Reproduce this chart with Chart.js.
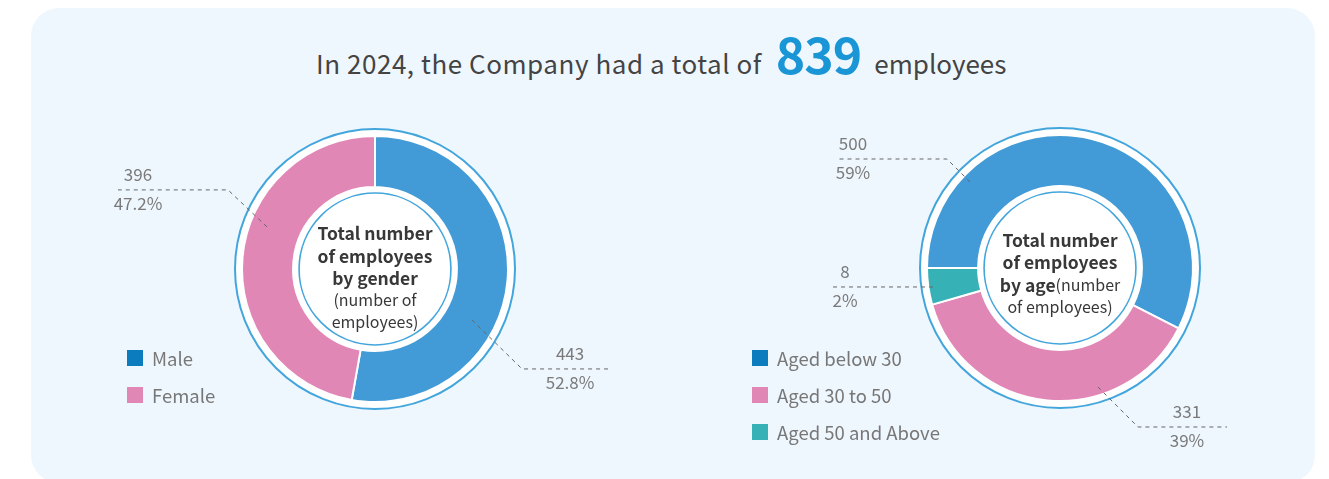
<!DOCTYPE html>
<html><head><meta charset="utf-8">
<script src="https://cdn.jsdelivr.net/npm/chart.js@4.4.1/dist/chart.umd.min.js"></script>
<style>
html,body{margin:0;padding:0;background:#fff;width:1329px;height:479px;overflow:hidden;font-family:"Noto Sans CJK SC","Noto Sans",sans-serif;}
#panel{position:absolute;left:31px;top:8px;width:1284px;height:475px;background:#eff7fe;border-radius:28px;}
#title{position:absolute;left:316px;top:25px;white-space:nowrap;color:#444;font-size:26px;display:flex;align-items:baseline;line-height:54px;}
#t1{letter-spacing:0.55px;}
#title .num{font-size:50px;font-weight:bold;color:#1a96d6;margin:0 13px 0 14px;letter-spacing:-1px;}
.cv{position:absolute;top:0;height:479px;}
#c1wrap{left:0;width:665px;}
#c2wrap{left:665px;width:664px;}
.legend{position:absolute;font-size:18.5px;color:#777;}
.legend .item{display:flex;align-items:center;height:37px;white-space:nowrap;}
.legend .sw{width:16px;height:16px;margin-right:9px;flex:none;}
</style></head>
<body>
<div id="panel"></div>
<div id="title"><span id="t1"></span><span class="num" id="tnum"></span><span id="t2"></span></div>
<div class="cv" id="c1wrap"><canvas id="c1"></canvas></div>
<div class="cv" id="c2wrap"><canvas id="c2"></canvas></div>
<div class="legend" id="lg1" style="left:127px;top:339px;"></div>
<div class="legend" id="lg2" style="left:752px;top:339px;"></div>
<script>
// ---- data ----
const reportYear = 2024;
const totalEmployees = 839;
const genderLabels = ['Male', 'Female'];
const genderValues = [443, 396];
const genderPercents = ['52.8%', '47.2%'];
const ageLabels = ['Aged below 30', 'Aged 30 to 50', 'Aged 50 and Above'];
const ageValues = [500, 331, 8];
const agePercents = ['59%', '39%', '2%'];

// ---- styles ----
const genderColors = ['#429bd6', '#e187b6'];
const genderLegendColors = ['#0b7cbd', '#e187b6'];
const ageColors = ['#429bd6', '#e187b6', '#36b1b5'];
const ageLegendColors = ['#0b7cbd', '#e187b6', '#36b1b5'];
const FONT = '"Noto Sans CJK SC","Noto Sans",sans-serif';

document.getElementById('t1').textContent = 'In ' + reportYear + ', the Company had a total of';
document.getElementById('tnum').textContent = totalEmployees;
document.getElementById('t2').textContent = 'employees';

function legend(id, labels, colors) {
  const el = document.getElementById(id);
  labels.forEach((l, i) => {
    const it = document.createElement('div'); it.className = 'item';
    const sw = document.createElement('span'); sw.className = 'sw'; sw.style.background = colors[i];
    const tx = document.createElement('span'); tx.textContent = l;
    it.appendChild(sw); it.appendChild(tx); el.appendChild(it);
  });
}
legend('lg1', genderLabels, genderLegendColors);
legend('lg2', ageLabels, ageLegendColors);

// ECharts-like minimum slice angle
const minAnglePlugin = {
  id: 'minAngle',
  afterDatasetUpdate(chart, args, opts) {
    if (!opts || !opts.deg) return;
    const meta = chart.getDatasetMeta(0);
    const vals = chart.data.datasets[0].data;
    const sum = vals.reduce((a, b) => a + b, 0);
    const min = opts.deg * Math.PI / 180;
    let rest = Math.PI * 2, sumLarge = 0;
    const small = vals.map(v => { const a = v / sum * Math.PI * 2; if (a < min) { rest -= min; return true; } sumLarge += v; return false; });
    const unit = rest / sumLarge;
    let start = meta.data[0].startAngle;
    meta.data.forEach((el, i) => {
      const a = small[i] ? min : vals[i] * unit;
      el.startAngle = start; el.endAngle = start + a; el.circumference = a;
      start += a;
    });
  }
};

const decorPlugin = {
  id: 'decor',
  beforeDatasetsDraw(chart, args, o) {
    const arc = chart.getDatasetMeta(0).data[0];
    const ctx = chart.ctx;
    ctx.save();
    ctx.beginPath(); ctx.arc(arc.x, arc.y, arc.outerRadius + o.ringGap, 0, Math.PI * 2);
    ctx.fillStyle = '#fff'; ctx.fill();
    ctx.lineWidth = 2; ctx.strokeStyle = o.ringColor; ctx.stroke();
    ctx.restore();
  },
  afterDatasetsDraw(chart, args, o) {
    const meta = chart.getDatasetMeta(0);
    const arc = meta.data[0];
    const cx = arc.x, cy = arc.y;
    const ctx = chart.ctx;
    ctx.save();
    ctx.beginPath(); ctx.arc(cx, cy, arc.innerRadius - o.innerGap, 0, Math.PI * 2);
    ctx.lineWidth = 1.6; ctx.strokeStyle = o.ringColor; ctx.stroke();
    // center text
    ctx.fillStyle = '#383838'; ctx.textBaseline = 'middle';
    const fnt = p => (p[1] ? 'bold 17.5px ' : '16px ') + FONT;
    o.center.forEach(line => {
      let w = 0;
      line.parts.forEach(p => { ctx.font = fnt(p); w += ctx.measureText(p[0]).width; });
      let x = cx - w / 2;
      ctx.textAlign = 'left';
      line.parts.forEach(p => { ctx.font = fnt(p); ctx.fillText(p[0], x, cy + line.dy); x += ctx.measureText(p[0]).width; });
    });
    // leader lines + labels
    const vals = chart.data.datasets[0].data;
    o.leaders.forEach((L, i) => {
      const a = L.angle * Math.PI / 180;
      const ax = cx + L.r * Math.sin(a), ay = cy - L.r * Math.cos(a);
      const ex = ax + L.dx, ey = ay + L.dy;
      const fx = ex + L.len;
      ctx.beginPath(); ctx.setLineDash([4, 4]); ctx.lineWidth = 1; ctx.strokeStyle = '#666';
      ctx.moveTo(ax, ay); ctx.lineTo(ex, ey); ctx.lineTo(fx, ey); ctx.stroke();
      ctx.setLineDash([]);
      ctx.fillStyle = '#7a7a7a'; ctx.font = '17px ' + FONT; ctx.textAlign = 'center'; ctx.textBaseline = 'middle';
      ctx.fillText(String(vals[i]), fx + L.tx, ey - 15);
      ctx.fillText(o.percents[i], fx + L.tx, ey + 14);
    });
    ctx.restore();
  }
};

function makeChart(id, labels, values, colors, rotation, padding, decor, minDeg) {
  return new Chart(document.getElementById(id), {
    type: 'doughnut',
    data: { labels: labels, datasets: [{ data: values, backgroundColor: colors, borderColor: '#fff', borderWidth: 2, hoverOffset: 0 }] },
    options: {
      responsive: true, maintainAspectRatio: false, animation: false,
      radius: 133, cutout: '61.6%', rotation: rotation,
      layout: { padding: padding },
      plugins: { legend: { display: false }, tooltip: { enabled: false }, decor: decor, minAngle: { deg: minDeg } }
    },
    plugins: [minAnglePlugin, decorPlugin]
  });
}

makeChart('c1', genderLabels, genderValues, genderColors, 0,
  { left: 100, right: 15, top: 80, bottom: 21 },
  { ringGap: 7, innerGap: 6, ringColor: '#42a5dc', percents: genderPercents,
    center: [
      { dy: -36, parts: [['Total number', true]] },
      { dy: -13, parts: [['of employees', true]] },
      { dy: 9, parts: [['by gender', true]] },
      { dy: 31, parts: [['(number of', false]] },
      { dy: 53, parts: [['employees)', false]] }
    ],
    leaders: [
      { angle: 117.7, r: 109.6, dx: 50, dy: 49, len: 88, tx: -40 },
      { angle: 291.3, r: 115.9, dx: -39, dy: -37, len: -110, tx: 20 }
    ] }, 0);

makeChart('c2', ageLabels, ageValues, ageColors, 270,
  { left: 140, right: 14, top: 80, bottom: 23 },
  { ringGap: 7, innerGap: 6, ringColor: '#42a5dc', percents: agePercents,
    center: [
      { dy: -28, parts: [['Total number', true]] },
      { dy: -6, parts: [['of employees', true]] },
      { dy: 17, parts: [['by age', true], ['(number', false]] },
      { dy: 39, parts: [['of employees)', false]] }
    ],
    leaders: [
      { angle: 313.7, r: 124.5, dx: -23, dy: -23, len: -110, tx: 16 },
      { angle: 162.3, r: 124.9, dx: 40, dy: 40, len: 89, tx: -40 },
      { angle: 261.5, r: 128.4, dx: 0, dy: 0, len: -100, tx: 12 }
    ] }, 16);
</script>
</body></html>
